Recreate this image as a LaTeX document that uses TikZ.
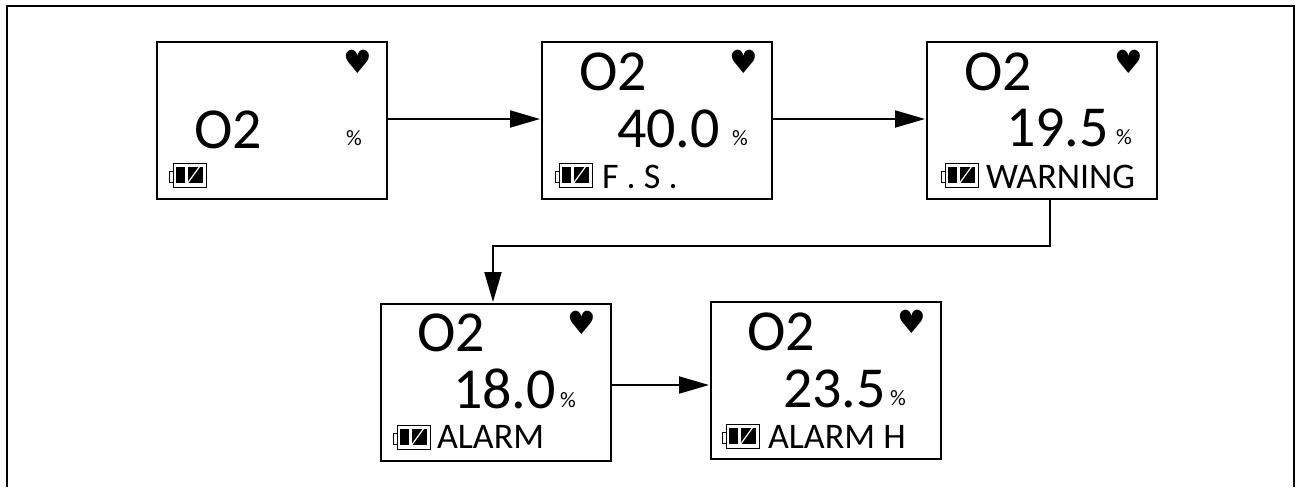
\documentclass[tikz,border=0pt]{standalone}
\usepackage{fontspec}
\setmainfont{Carlito}
\newfontfamily\symfont{DejaVu Sans}
\usetikzlibrary{arrows.meta}

\begin{document}
\begin{tikzpicture}[x=0.75pt,y=-0.75pt,>={Triangle[length=22.5pt,width=12.75pt]},shorten >=1.5pt,line width=1.5pt,
    screen node/.style={draw,anchor=north west,inner sep=0pt,outer sep=0pt,minimum width=172.5pt,minimum height=117.5pt},
    gas node/.style={anchor=base west,inner sep=0pt,font=\fontsize{43.5}{46}\selectfont},
    state node/.style={anchor=base west,inner sep=0pt,font=\fontsize{27}{30}\selectfont},
    unit node/.style={inner sep=0pt,font=\fontsize{16.5}{18}\selectfont},
    heart node/.style={inner sep=0pt,font=\symfont\fontsize{24}{26}\selectfont},
    battery/.pic={
      \draw[line width=0.7pt,shorten >=0pt] (0,0) rectangle (33,24);
      \draw[line width=0.7pt,shorten >=0pt] (0,8) -- (-4,8) -- (-4,19) -- (0,19);
      \fill (3,4) rectangle (12,20);
      \fill (15,4) rectangle (30,20);
      \draw[white,line width=0.9pt,shorten >=0pt] (14,21) -- (27,3);
    }]
      \useasboundingbox (0,0) rectangle (1297,487);

      % outer frame, open at the bottom
      \coordinate (fa) at (7,487);
      \coordinate (fb) at (7,6);
      \coordinate (fc) at (1294,6);
      \coordinate (fd) at (1294,487);
      \draw[shorten >=0pt] (fa) -- (fb) -- (fc) -- (fd);

      \node[screen node] (s1) at (157,42) {};
      \node[screen node] (s2) at (542,42) {};
      \node[screen node] (s3) at (927,42) {};
      \node[screen node] (s4) at (381,304) {};
      \node[screen node] (s5) at (711,302) {};

      % first screen
      \node[gas node] (g1) at (193,148) {O2};
      \node[unit node] (u1) at (354,138) {\%};
      \node[heart node] (h1) at (358,62) {♥};
      \pic (b1) at (173,163) {battery};

      % second screen
      \node[gas node] (g2) at (578,90) {O2};
      \node[gas node] (v2) at (616,147) {40.0};
      \node[unit node] (u2) at (740,138) {\%};
      \node[heart node] (h2) at (744,62) {♥};
      \node[state node] (t2) at (601,188) {F . S .};
      \pic (b2) at (559,163) {battery};

      % third screen
      \node[gas node] (g3) at (963,90) {O2};
      \node[gas node] (v3) at (1005,146) {19.5};
      \node[unit node] (u3) at (1124,137) {\%};
      \node[heart node] (h3) at (1129,62) {♥};
      \node[state node] (t3) at (985,188) {WARNING};
      \pic (b3) at (945,163) {battery};

      % fourth screen
      \node[gas node] (g4) at (416,351) {O2};
      \node[gas node] (v4) at (452,408) {18.0};
      \node[unit node] (u4) at (568,400) {\%};
      \node[heart node] (h4) at (582,323) {♥};
      \node[state node] (t4) at (436,448) {ALARM};
      \pic (b4) at (397,425) {battery};

      % fifth screen
      \node[gas node] (g5) at (746,350) {O2};
      \node[gas node] (v5) at (782,407) {23.5};
      \node[unit node] (u5) at (898,398) {\%};
      \node[heart node] (h5) at (912,322) {♥};
      \node[state node] (t5) at (767,448) {ALARM H};
      \pic (b5) at (726,424) {battery};

      % connectors
      \coordinate (rowa) at (0,119);
      \coordinate (rowb) at (0,385);
      \coordinate (turnr) at (1050,246);
      \coordinate (turnl) at (493,246);

      \draw[->] (s1.east |- rowa) -- (s2.west |- rowa);
      \draw[->] (s2.east |- rowa) -- (s3.west |- rowa);
      \draw[->] (s4.east |- rowb) -- (s5.west |- rowb);
      \draw[->] (turnr |- s3.south) -- (turnr) -- (turnl) -- (turnl |- s4.north);
    \end{tikzpicture}
\end{document}
